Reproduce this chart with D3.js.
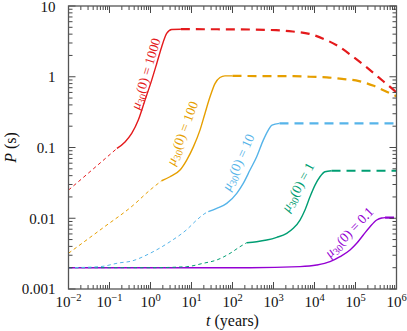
<!DOCTYPE html>
<html><head><meta charset="utf-8">
<script src="https://cdn.jsdelivr.net/npm/d3@7"></script>
<style>
html,body{margin:0;padding:0;background:#fff;}
text{font-family:"Liberation Serif","DejaVu Serif",serif;}
</style></head>
<body><svg id="c" width="407" height="331"></svg>
<script>
// ---- data ----
const labels = ["1000", "100", "10", "1", "0.1"];
const xTickExps = [-2, -1, 0, 1, 2, 3, 4, 5, 6];
const yTickValues = [0.001, 0.01, 0.1, 1, 10];
const yTickLabels = ["0.001", "0.01", "0.1", "1", "10"];

// mu30(0) = 1000
const mu1000Early = [[0.01,0.025],[0.04,0.0497],[0.152,0.097]];
const mu1000Mid = [[0.152,0.097],[0.239,0.120],[0.348,0.158],[0.504,0.244],[0.734,0.467],[1.07,0.896],[1.42,1.54],[1.87,2.64],[2.48,4.09],[3.29,4.66],[5.5,4.70]];
const mu1000Late = [[5.5,4.70],[100,4.68],[1150,4.55],[2940,4.36],[7460,4.04],[17300,3.40],[38900,2.68],[82200,1.97],[173000,1.41],[368000,0.977],[722000,0.707],[1e6,0.60]];
// mu30(0) = 100
const mu100Early = [[0.01,0.0032],[0.069,0.0073],[0.38,0.0153],[0.97,0.025],[1.87,0.0339]];
const mu100Mid = [[1.87,0.0339],[2.99,0.0386],[5.25,0.048],[7.64,0.0664],[11.1,0.102],[16.1,0.176],[21.3,0.303],[28.3,0.52],[37.4,0.80],[49.5,0.977],[65.6,1.03],[100,1.03]];
const mu100Late = [[100,1.03],[1000,1.02],[3100,1.02],[7760,1.0],[20000,0.98],[46900,0.934],[122000,0.867],[278000,0.745],[706000,0.581],[1e6,0.53]];
// mu30(0) = 10
const mu10Early = [[0.01,0.002],[0.0586,0.00207],[0.18,0.00235],[0.316,0.00245],[0.97,0.00319],[2.99,0.00466],[7.64,0.0069],[13.4,0.00944],[21.3,0.0117],[25.7,0.0124]];
const mu10Mid = [[25.7,0.0124],[41.2,0.0138],[72.3,0.0162],[127,0.0225],[183,0.0311],[267,0.048],[389,0.074],[564,0.127],[747,0.176],[918,0.207],[1400,0.219]];
const mu10Late = [[1400,0.219],[1e6,0.219]];
// mu30(0) = 1
const mu1Early = [[0.01,0.002],[1,0.002],[7.64,0.00207],[19.4,0.00231],[41.2,0.00257],[86.9,0.00319],[152,0.00396],[222,0.00451]];
const mu1Mid = [[222,0.00451],[389,0.00466],[682,0.00492],[1200,0.00537],[2100,0.00612],[3040,0.0072],[4430,0.00944],[5860,0.0131],[7760,0.0201],[10300,0.0294],[13600,0.0386],[18000,0.0454],[26000,0.0469]];
const mu1Late = [[26000,0.0469],[1e6,0.0469]];
// mu30(0) = 0.1
const mu01Early = [];
const mu01Mid = [[0.01,0.002],[267,0.002],[4430,0.00207],[11300,0.00218],[23900,0.00243],[41900,0.00286],[73500,0.00356],[107000,0.00442],[155000,0.00579],[226000,0.00759],[329000,0.00944],[436000,0.0101],[525000,0.0102]];
const mu01Late = [[525000,0.0102],[1e6,0.0102]];

// label anchors (data space)
const labelAnchors = [[0.755,1.107],[5.86,0.1595],[136,0.0622],[3850,0.0276],[69300,0.00638]];

// ---- styling ----
const FONT = "'Liberation Serif', 'DejaVu Serif', serif";
const colors = ["#e41a1c","#e69f00","#56b4e9","#009e73","#9400d3"];
const labelAngles = [-73, -69, -65.5, -61, -46];
const earlySets = [mu1000Early, mu100Early, mu10Early, mu1Early, mu01Early];
const midSets = [mu1000Mid, mu100Mid, mu10Mid, mu1Mid, mu01Mid];
const lateSets = [mu1000Late, mu100Late, mu10Late, mu1Late, mu01Late];

const L = 68.5, R = 396.5, T = 6, B = 289;
const svg = d3.select("#c");
const x = d3.scaleLog().domain([1e-2, 1e6]).range([L, R]);
const y = d3.scaleLog().domain([1e-3, 10]).range([B, T]);

const line = d3.line().x(d => x(d[0])).y(d => y(d[1])).curve(d3.curveMonotoneX);

svg.append("clipPath").attr("id","pc").append("rect")
  .attr("x", L).attr("y", T).attr("width", R-L).attr("height", B-T);
const g = svg.append("g").attr("clip-path","url(#pc)");

for (let i = 4; i >= 0; i--) {
  if (earlySets[i].length) g.append("path").attr("d", line(earlySets[i])).attr("fill","none")
    .attr("stroke", colors[i]).attr("stroke-width", 1).attr("stroke-dasharray","3.5,3");
  g.append("path").attr("d", line(midSets[i])).attr("fill","none")
    .attr("stroke", colors[i]).attr("stroke-width", 1.4);
  g.append("path").attr("d", line(lateSets[i])).attr("fill","none")
    .attr("stroke", colors[i]).attr("stroke-width", 2.2).attr("stroke-dasharray","9,6");
}

// curve labels
labels.forEach((lab, i) => {
  const [lt, lp] = labelAnchors[i];
  const t = svg.append("text")
    .attr("transform", `translate(${x(lt)},${y(lp)}) rotate(${labelAngles[i]})`)
    .attr("text-anchor","middle").attr("dy","0.35em")
    .attr("font-family", FONT)
    .attr("fill", colors[i]).attr("font-size", 13.5);
  t.append("tspan").attr("font-style","italic").text("μ");
  t.append("tspan").attr("font-size", 10).attr("dy", 3).text("30");
  t.append("tspan").attr("dy", -3).text("(0) = " + lab);
});

// ticks
const axisCol = "#333";
const minorX = [], minorY = [];
for (let e = -2; e < 6; e++) for (let k = 2; k <= 9; k++) minorX.push(k * Math.pow(10, e));
for (let e = -3; e < 1; e++) for (let k = 2; k <= 9; k++) minorY.push(k * Math.pow(10, e));
const majorX = xTickExps.map(e => Math.pow(10, e));
const tk = svg.append("g").attr("stroke", axisCol).attr("stroke-width", 0.9);
function xt(vals, len) {
  vals.forEach(v => {
    tk.append("line").attr("x1", x(v)).attr("x2", x(v)).attr("y1", B).attr("y2", B - len);
    tk.append("line").attr("x1", x(v)).attr("x2", x(v)).attr("y1", T).attr("y2", T + len);
  });
}
function yt(vals, len) {
  vals.forEach(v => {
    tk.append("line").attr("y1", y(v)).attr("y2", y(v)).attr("x1", L).attr("x2", L + len);
    tk.append("line").attr("y1", y(v)).attr("y2", y(v)).attr("x1", R).attr("x2", R - len);
  });
}
xt(minorX, 4); xt(majorX, 7); yt(minorY, 4); yt(yTickValues, 7);

svg.append("rect").attr("x", L).attr("y", T).attr("width", R-L).attr("height", B-T)
  .attr("fill","none").attr("stroke","#555").attr("stroke-width", 1.3);

// tick labels
yTickValues.forEach((v, i) => {
  svg.append("text").attr("x", L - 13).attr("y", Math.max(y(v), 7)).attr("dy","0.35em")
    .attr("font-family", FONT)
    .attr("text-anchor","end").attr("font-size", 15).attr("fill","#111").text(yTickLabels[i]);
});
xTickExps.forEach(e => {
  const t = svg.append("text").attr("x", x(Math.pow(10, e))).attr("y", B + 18)
    .attr("font-family", FONT)
    .attr("text-anchor","middle").attr("font-size", 15).attr("fill","#111");
  t.append("tspan").text("10");
  t.append("tspan").attr("dy", -6).attr("font-size", 10.5).text(e < 0 ? "−" + (-e) : String(e));
});

// axis titles
const xl = svg.append("text").attr("x", (L + R) / 2).attr("y", 326)
  .attr("font-family", FONT)
  .attr("text-anchor","middle").attr("font-size", 16).attr("fill","#111");
xl.append("tspan").attr("font-style","italic").text("t");
xl.append("tspan").text(" (years)");
const yl = svg.append("text").attr("transform", `translate(16,${(T + B) / 2}) rotate(-90)`)
  .attr("font-family", FONT)
  .attr("text-anchor","middle").attr("font-size", 16).attr("fill","#111");
yl.append("tspan").attr("font-style","italic").text("P");
yl.append("tspan").text(" (s)");
</script></body></html>
